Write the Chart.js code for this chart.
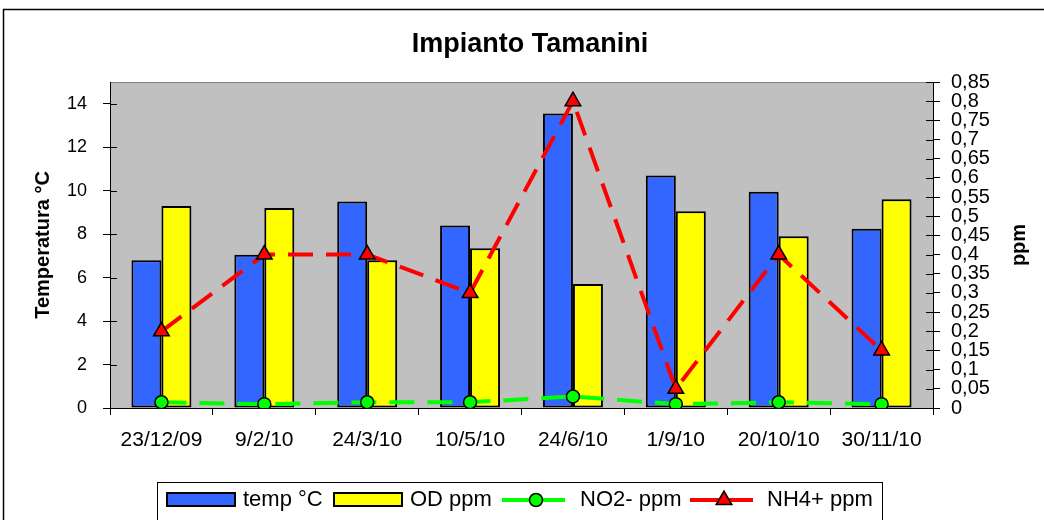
<!DOCTYPE html>
<html>
<head>
<meta charset="utf-8">
<title>Impianto Tamanini</title>
<script src="https://cdn.jsdelivr.net/npm/chart.js@4.4.0/dist/chart.umd.min.js"></script>
<style>
  html, body { margin: 0; padding: 0; background: #ffffff; }
  canvas { display: block; }
</style>
</head>
<body>
<canvas id="chart" width="1044" height="520"></canvas>
<script>
// Sampling dates
const categories = ['23/12/09', '9/2/10', '24/3/10', '10/5/10', '24/6/10', '1/9/10', '20/10/10', '30/11/10'];
// Temperature (°C) - left axis
const tempValues = [6.8, 7.05, 9.5, 8.4, 13.55, 10.7, 9.95, 8.25];
// Dissolved oxygen (ppm) - left axis
const odValues = [9.3, 9.2, 6.8, 7.35, 5.7, 9.05, 7.9, 9.6];
// Nitrite (ppm) - right axis
const no2Values = [0.015, 0.01, 0.015, 0.015, 0.03, 0.01, 0.015, 0.01];
// Ammonium (ppm) - right axis
const nh4Values = [0.2, 0.4, 0.4, 0.3, 0.8, 0.05, 0.4, 0.15];

const seriesLabels = ['temp °C', 'OD ppm', 'NO2- ppm', 'NH4+ ppm'];
const chartTitle = 'Impianto Tamanini';
const leftAxisTitle = 'Temperatura °C';
const rightAxisTitle = 'ppm';

const FONT = '"Liberation Sans", Arial, sans-serif';

// Gray plot background with a thin frame, plus the outer chart frame
const backdrop = {
  id: 'backdrop',
  beforeDraw(chart) {
    const { ctx, chartArea: a } = chart;
    ctx.save();
    ctx.strokeStyle = '#000';
    ctx.lineWidth = 1.5;
    ctx.strokeRect(3.5, 9.5, 1200, 700);
    ctx.fillStyle = '#c0c0c0';
    ctx.fillRect(a.left, a.top, a.right - a.left, a.bottom - a.top);
    ctx.strokeStyle = '#808080';
    ctx.lineWidth = 1;
    ctx.strokeRect(a.left + 0.5, a.top + 0.5, a.right - a.left, a.bottom - a.top);
    ctx.restore();
  }
};

// Title, rotated axis titles, inward tick marks and the boxed legend
const decorations = {
  id: 'decorations',
  afterDraw(chart) {
    const { ctx, chartArea: a } = chart;
    ctx.save();

    // inward halves of the value-axis tick marks
    ctx.strokeStyle = '#000';
    ctx.lineWidth = 1;
    const yL = chart.scales.y, yR = chart.scales.y1;
    yL.ticks.forEach(t => {
      const py = Math.round(yL.getPixelForValue(t.value)) + 0.5;
      ctx.beginPath(); ctx.moveTo(a.left, py); ctx.lineTo(a.left + 7, py); ctx.stroke();
    });
    yR.ticks.forEach(t => {
      const py = Math.round(yR.getPixelForValue(t.value)) + 0.5;
      ctx.beginPath(); ctx.moveTo(a.right - 7, py); ctx.lineTo(a.right, py); ctx.stroke();
    });

    // chart title
    ctx.fillStyle = '#000';
    ctx.font = 'bold 27px ' + FONT;
    ctx.textAlign = 'center';
    ctx.textBaseline = 'middle';
    ctx.fillText(chartTitle, 530, 45);

    // axis titles, both reading bottom-to-top
    ctx.font = 'bold 20px ' + FONT;
    const midY = (a.top + a.bottom) / 2;
    [[43, leftAxisTitle], [1019, rightAxisTitle]].forEach(([x, txt]) => {
      ctx.save();
      ctx.translate(x, midY);
      ctx.rotate(-Math.PI / 2);
      ctx.fillText(txt, 0, 0);
      ctx.restore();
    });

    // legend box
    ctx.strokeStyle = '#000';
    ctx.lineWidth = 1;
    ctx.strokeRect(157.5, 482.5, 725, 60);
    const ly = 500;
    const sw = [167, 334, 502, 690];
    const tx = [243, 410, 580, 767];
    const ds = chart.data.datasets;
    ds.forEach((d, i) => {
      if (d.type === 'line') {
        ctx.strokeStyle = d.borderColor;
        ctx.lineWidth = 4;
        ctx.beginPath(); ctx.moveTo(sw[i], ly); ctx.lineTo(sw[i] + 63, ly); ctx.stroke();
        const cx = sw[i] + 34;
        ctx.fillStyle = d.pointBackgroundColor;
        ctx.strokeStyle = '#000';
        ctx.lineWidth = 1.5;
        ctx.beginPath();
        if (d.pointStyle === 'triangle') {
          const r = d.pointRadius;
          ctx.moveTo(cx, ly - r);
          ctx.lineTo(cx + r * 0.866, ly + r * 0.5);
          ctx.lineTo(cx - r * 0.866, ly + r * 0.5);
          ctx.closePath();
        } else {
          ctx.arc(cx, ly, d.pointRadius, 0, Math.PI * 2);
        }
        ctx.fill(); ctx.stroke();
      } else {
        ctx.fillStyle = d.backgroundColor;
        ctx.fillRect(sw[i], ly - 7, 68, 13);
        ctx.strokeStyle = '#000';
        ctx.lineWidth = 2;
        ctx.strokeRect(sw[i], ly - 7, 68, 13);
      }
      ctx.fillStyle = '#000';
      ctx.font = '22px ' + FONT;
      ctx.textAlign = 'left';
      ctx.textBaseline = 'middle';
      ctx.fillText(d.label, tx[i], ly);
    });
    ctx.restore();
  }
};

const formatComma = v => String(Math.round(v * 100) / 100).replace('.', ',');

new Chart(document.getElementById('chart'), {
  type: 'bar',
  data: {
    labels: categories,
    datasets: [
      {
        type: 'bar', label: seriesLabels[0], data: tempValues, yAxisID: 'y', order: 2,
        backgroundColor: '#3366ff', borderColor: '#000', borderWidth: 2, borderSkipped: false,
        barPercentage: 1, categoryPercentage: 0.583
      },
      {
        type: 'bar', label: seriesLabels[1], data: odValues, yAxisID: 'y', order: 2,
        backgroundColor: '#ffff00', borderColor: '#000', borderWidth: 2, borderSkipped: false,
        barPercentage: 1, categoryPercentage: 0.583
      },
      {
        type: 'line', label: seriesLabels[2], data: no2Values, yAxisID: 'y1', order: 0,
        borderColor: '#00ff00', borderWidth: 4, borderDash: [25, 13],
        pointStyle: 'circle', pointRadius: 6.5, pointBackgroundColor: '#00ff00',
        pointBorderColor: '#000', pointBorderWidth: 1.5, fill: false, tension: 0
      },
      {
        type: 'line', label: seriesLabels[3], data: nh4Values, yAxisID: 'y1', order: 1,
        borderColor: '#ff0000', borderWidth: 4, borderDash: [25, 13],
        pointStyle: 'triangle', pointRadius: 9, pointBackgroundColor: '#ff0000',
        pointBorderColor: '#000', pointBorderWidth: 1.5, fill: false, tension: 0
      }
    ]
  },
  options: {
    responsive: false,
    animation: false,
    devicePixelRatio: 1,
    layout: { padding: { top: 82, left: 0, right: 0, bottom: 0 } },
    plugins: {
      legend: { display: false },
      title: { display: false },
      tooltip: { enabled: false }
    },
    scales: {
      x: {
        offset: true,
        grid: { drawOnChartArea: false, offset: true, tickLength: 7, color: '#000' },
        border: { display: true, color: '#000', width: 1 },
        ticks: { color: '#000', font: { family: FONT, size: 21 }, padding: 13, maxRotation: 0, autoSkip: false },
        afterFit(s) { s.height = 112; }
      },
      y: {
        position: 'left', min: 0, max: 15,
        grid: { drawOnChartArea: false, tickLength: 7, color: '#000' },
        border: { display: true, color: '#000', width: 1 },
        ticks: { stepSize: 2, color: '#000', font: { family: FONT, size: 18 }, padding: 16 },
        afterBuildTicks(s) { s.ticks = s.ticks.filter(t => t.value <= 14); },
        afterFit(s) { s.width = 110; }
      },
      y1: {
        position: 'right', min: 0, max: 0.85,
        grid: { drawOnChartArea: false, tickLength: 7, color: '#000' },
        border: { display: true, color: '#000', width: 1 },
        ticks: { stepSize: 0.05, color: '#000', font: { family: FONT, size: 20 }, padding: 11,
                 autoSkip: false, callback: v => formatComma(v) },
        afterFit(s) { s.width = 111; }
      }
    }
  },
  plugins: [backdrop, decorations]
});
</script>
</body>
</html>
